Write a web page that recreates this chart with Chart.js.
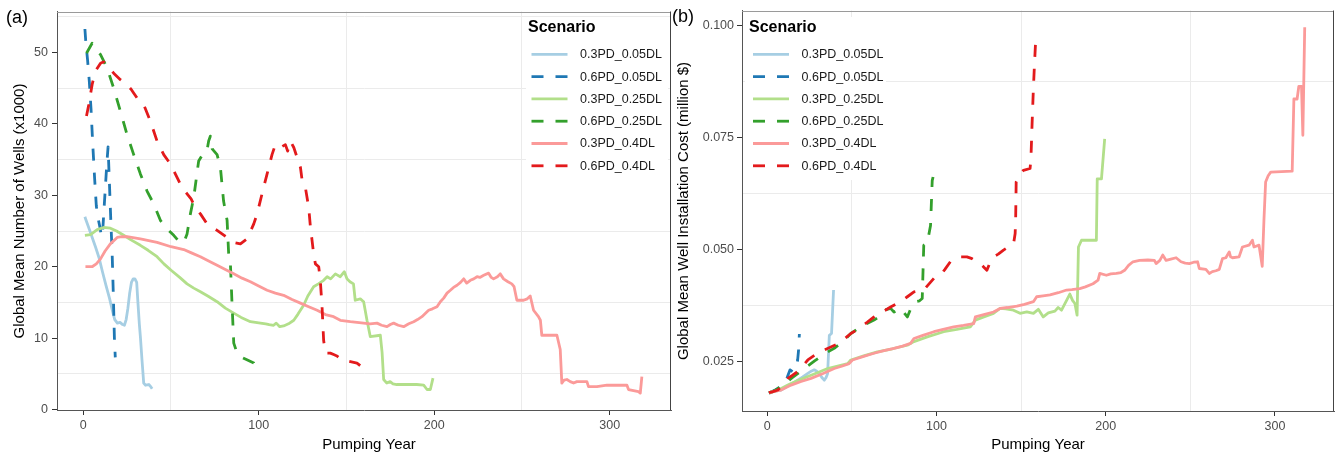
<!DOCTYPE html>
<html>
<head>
<meta charset="utf-8">
<script src="https://cdn.jsdelivr.net/npm/chart.js@4.4.1/dist/chart.umd.min.js"></script>
<style>
  html, body { margin: 0; padding: 0; background: #fff; width: 1344px; height: 453px; overflow: hidden; }
  canvas { position: absolute; top: 0; }
  #ca { left: 0; }
  #cb { left: 664px; }
</style>
</head>
<body>
<canvas id="ca" width="680" height="453"></canvas>
<canvas id="cb" width="680" height="453"></canvas>
<script>
// ---- scenarios ----
const scenarios = ['0.3PD_0.05DL', '0.6PD_0.05DL', '0.3PD_0.25DL', '0.6PD_0.25DL', '0.3PD_0.4DL', '0.6PD_0.4DL'];

// ---- (a) global mean number of wells (x1000) by pumping year ----
const wellsYears_03_005 = [1, 1.5, 3, 5, 7, 9, 11, 13, 15, 16.5, 18, 19.5, 21, 22.5, 23.5, 24.5, 25.5, 26.5, 27.5, 28.5, 29.5, 30.5, 31.2, 32, 32.6, 33.5, 34.5, 35.5, 37.4, 38.5, 39.3];
const wells_03_005      = [27.0, 26.6, 25.6, 24.2, 22.8, 21.3, 19.3, 17.4, 15.6, 14.0, 12.6, 12.1, 12.2, 11.9, 11.8, 12.6, 14.2, 16.3, 17.8, 18.3, 18.3, 17.8, 15.0, 12.0, 10.2, 7.0, 3.7, 3.4, 3.5, 3.2, 2.9];

const wellsYears_06_005 = [1, 1.5, 2.5, 3.5, 4.5, 5.5, 6.5, 7.5, 8.5, 9.5, 10.5, 11, 11.5, 12.5, 13.5, 14.2, 15, 15.8, 16.5, 17.2, 17.8, 18.3];
const wells_06_005      = [53.3, 51.5, 49, 46, 42, 37, 32.5, 28.5, 26.8, 25.6, 24.2, 24.5, 26.5, 30.5, 34.5, 36.8, 31.5, 26.2, 22, 16, 10, 7.3];

const wellsYears_03_025 = [1, 4.2, 8, 11.7, 15.5, 19, 23.1, 27, 32.6, 37, 42.1, 46, 50.1, 55, 59.2, 63, 66.8, 71, 76.3, 81, 85.8, 90, 95.3, 101, 104, 106, 108.5, 110, 112, 114.2, 117, 120, 122.5, 125.6, 128, 131.3, 134, 137, 139, 141, 143.7, 146.5, 148.8, 150.3, 152, 154, 155, 157.9, 159.8, 161.7, 163.6, 169.3, 170.3, 171.2, 173, 174.9, 176.5, 178.7, 184.5, 190, 194, 195.9, 197.8, 199.3];
const wells_03_025      = [24.4, 24.5, 25.2, 25.5, 25.4, 25, 24.4, 23.8, 23, 22.3, 21.4, 20.4, 19.5, 18.5, 17.6, 17, 16.5, 15.9, 15.1, 14.2, 13.5, 12.9, 12.3, 12.1, 12.0, 11.9, 11.8, 12.1, 11.6, 11.7, 12, 12.5, 13.4, 14.6, 15.9, 17.2, 17.6, 18.1, 18.6, 18.3, 19, 18.6, 19.3, 18.3, 17.9, 17.6, 15.3, 15.5, 15.1, 12.5, 10.2, 10.4, 8, 4.2, 3.7, 3.9, 3.6, 3.5, 3.5, 3.5, 3.4, 2.8, 2.8, 4.4];

const wellsYears_06_025 = [1.9, 5.1, 7.5, 9.9, 13.7, 17.4, 21.2, 25, 28.8, 32.6, 36.4, 40.2, 44, 47, 51.6, 55.4, 57.5, 59.2, 61.1, 63, 65.8, 68.7, 70.5, 71.5, 72.5, 73.5, 76.3, 78.2, 80, 82, 82.9, 83.9, 84.8, 85.8, 87.7, 89.6, 93, 97.2, 98.7];
const wells_06_025      = [49.9, 51.3, 50.5, 49.7, 47.8, 45, 41.8, 38.5, 35.7, 33, 30.6, 28.8, 26.5, 25.5, 24.4, 23.3, 23.5, 24.6, 27.4, 29.7, 34.8, 36, 36.2, 37.6, 38.3, 36.5, 35.7, 33.9, 29.2, 26.5, 21.8, 20.4, 14.9, 9.3, 7.9, 7.4, 7.0, 6.5, 5.1];

const wellsYears_03_04 = [1.3, 5.1, 7.5, 9.9, 12.5, 15.5, 19.4, 22, 25, 32.6, 42.1, 50.1, 57.3, 62, 66.8, 71.5, 76.3, 81, 85.8, 90.5, 95.3, 100, 104.8, 109.5, 114.2, 119, 123.8, 128.5, 133.3, 138, 142.7, 146.5, 152.2, 156, 159.8, 163.5, 167.4, 170, 173.1, 175, 176.9, 179.5, 182.6, 185.5, 188.3, 190.5, 193, 196.8, 199, 201.6, 203.5, 205.4, 207.3, 209.2, 211, 213, 215, 216.8, 218.5, 220.6, 222.5, 224.4, 226, 228.2, 231, 232.5, 233.8, 236, 237.6, 239.5, 242, 244.2, 245.5, 247.1, 250.9, 253, 254.7, 256.6, 259.4, 260.5, 261.3, 265, 269.9, 271.8, 272.7, 274, 275.6, 277.5, 279.4, 281.3, 287, 287.9, 292.7, 298.4, 309.8, 310.7, 316.4, 317.4, 318.3];
const wells_03_04      = [20, 20, 20.4, 21.1, 22.2, 23.2, 24.1, 24.2, 24.2, 23.9, 23.4, 22.8, 22.4, 21.9, 21.4, 20.8, 20.2, 19.6, 19, 18.4, 17.9, 17.3, 16.7, 16.3, 16, 15.4, 14.9, 14.4, 13.9, 13.3, 13, 12.5, 12.3, 12.2, 12.1, 12.0, 12.1, 11.8, 11.6, 11.9, 12.1, 11.8, 11.6, 12, 12.3, 12.6, 13, 13.9, 14.1, 14.4, 15.1, 15.6, 16.3, 16.7, 17.1, 17.4, 17.8, 18.3, 17.7, 18.1, 18.3, 18.6, 18.5, 18.8, 19.1, 18.5, 18.3, 18.6, 19, 18.3, 17.9, 17.6, 17.2, 15.3, 15.3, 15.5, 15.9, 13.9, 13, 12.5, 10.4, 10.4, 10.4, 8.4, 3.7, 4.1, 4.2, 3.9, 3.7, 3.9, 3.9, 3.2, 3.2, 3.4, 3.4, 2.8, 2.5, 2.3, 4.6];

const wellsYears_06_04 = [1.9, 3.2, 5.1, 7, 9.9, 11.7, 13.7, 17.4, 21.2, 25, 27.5, 30.8, 34.5, 38.3, 42.1, 45.9, 49.7, 52.5, 56.3, 59.2, 61.5, 63.9, 66.8, 70.6, 76.3, 82, 85.8, 89.6, 93.4, 97.2, 99.1, 102.8, 104.8, 107.6, 109.5, 112.4, 115.2, 116.5, 118.1, 120, 121.9, 123.8, 124.8, 126.6, 128.5, 129.5, 130.4, 131.3, 132.3, 134.2, 135.1, 136.1, 137, 138, 140.8, 142.7, 144.6, 147, 150.3, 156, 158, 158.9];
const wells_06_04      = [41.1, 42.7, 45.5, 47.4, 48.5, 48.7, 48.3, 47.1, 46.2, 45.5, 44.8, 43.6, 42.7, 40.4, 37.6, 35.7, 34.4, 33, 31.1, 30.2, 29.5, 28.3, 27.4, 26, 25.1, 24.1, 23.4, 23.2, 23.9, 26, 27.4, 31.1, 33, 35.7, 37.1, 36.7, 37.1, 36.2, 37.6, 36.7, 35.3, 33.9, 32, 31.1, 28.3, 25.5, 23.7, 21.8, 20.4, 20, 18.1, 14.4, 9.7, 7.9, 7.9, 7.7, 7.5, 7.0, 6.8, 6.5, 6.1, 7.7];

// ---- (b) global mean well installation cost (million $) by pumping year ----
const costYears_03_005 = [1, 4, 8.2, 10.5, 13.1, 15.5, 18, 21, 24, 26, 27.8, 29.3, 30.8, 32.3, 33.7, 34.8, 35.7, 36.7, 38, 39.2];
const cost_03_005      = [0.0180, 0.0184, 0.0187, 0.0192, 0.0198, 0.0203, 0.0209, 0.0216, 0.0224, 0.0229, 0.0232, 0.0229, 0.0224, 0.0215, 0.0209, 0.0215, 0.0224, 0.0309, 0.0313, 0.0410];

const costYears_06_005 = [1, 3, 6, 9, 11.5, 12.5, 13.5, 15, 16.5, 17.5, 18, 18.5, 19];
const cost_06_005      = [0.0180, 0.0183, 0.0190, 0.0198, 0.0212, 0.0222, 0.0232, 0.0228, 0.0232, 0.0240, 0.0255, 0.0275, 0.0312];

const costYears_03_025 = [1, 6, 12.2, 18, 24, 30, 35.7, 41, 47.5, 49.4, 57, 65.1, 74, 82.8, 86.7, 95, 104.3, 112, 120, 123, 128, 133.7, 137.6, 141, 145.5, 149.4, 153.4, 157.3, 160.2, 163.1, 166.1, 170, 171.9, 173.9, 176.9, 178.8, 180.4, 181.8, 183.1, 183.9, 185.7, 194.5, 195, 197.5, 199.4];
const cost_03_025      = [0.0180, 0.0186, 0.0198, 0.0208, 0.0217, 0.0226, 0.0235, 0.0240, 0.0246, 0.0254, 0.0263, 0.0272, 0.0279, 0.0287, 0.0295, 0.0306, 0.0317, 0.0322, 0.0328, 0.0343, 0.0350, 0.0358, 0.0369, 0.0368, 0.0365, 0.0358, 0.0361, 0.0358, 0.0367, 0.0350, 0.0359, 0.0363, 0.0371, 0.0365, 0.0387, 0.0401, 0.0387, 0.0380, 0.0354, 0.0506, 0.0521, 0.0521, 0.0658, 0.0658, 0.0747];

const costYears_06_025 = [1, 5, 10, 15, 22, 28, 34, 39.6, 43.5, 49.4, 55.3, 63.1, 66, 69, 72.9, 74.9, 78.8, 82.8, 85, 87.6, 90, 91.6, 92.5, 94.5, 96.5, 97.5, 98];
const cost_06_025      = [0.0181, 0.0187, 0.0200, 0.0215, 0.0235, 0.0252, 0.0268, 0.0280, 0.0291, 0.0313, 0.0328, 0.0343, 0.0350, 0.0365, 0.0369, 0.0361, 0.0369, 0.0350, 0.0370, 0.0384, 0.0386, 0.0391, 0.0510, 0.0513, 0.0554, 0.0654, 0.0662];

const costYears_03_04 = [1, 4, 8.2, 14.1, 20, 25.9, 33, 39.6, 44, 48.4, 50.4, 57, 63.1, 69, 74.9, 80, 84.7, 86.7, 92, 98.5, 104, 110.2, 116, 122, 123, 128, 133.7, 137.6, 142, 147.5, 152, 157.3, 159.2, 163, 167.1, 172, 176.9, 180, 184.7, 188, 192.5, 195.5, 196.5, 200.4, 203, 206.3, 209, 211.2, 213.5, 216.1, 220, 224.9, 228.8, 229.8, 232, 233.7, 235.7, 238.5, 241.6, 244.5, 247, 249.4, 252, 254.3, 255.3, 259.2, 261.2, 263, 265.1, 267.1, 269, 271, 273, 273.8, 274.9, 278.8, 280.8, 284.7, 286.7, 287.6, 290.6, 292.5, 293.5, 294.5, 296, 297.5, 310.2, 311.2, 313.1, 314.1, 315.7, 316.5, 317.6];
const cost_03_04      = [0.0181, 0.0184, 0.0187, 0.0198, 0.0206, 0.0213, 0.0224, 0.0235, 0.0240, 0.0246, 0.0254, 0.0262, 0.0269, 0.0275, 0.0280, 0.0285, 0.0291, 0.0302, 0.0309, 0.0317, 0.0322, 0.0328, 0.0331, 0.0335, 0.0350, 0.0355, 0.0361, 0.0369, 0.0371, 0.0374, 0.0378, 0.0384, 0.0395, 0.0397, 0.0399, 0.0404, 0.0410, 0.0411, 0.0413, 0.0417, 0.0424, 0.0432, 0.0447, 0.0443, 0.0446, 0.0447, 0.0449, 0.0454, 0.0465, 0.0473, 0.0476, 0.0477, 0.0476, 0.0469, 0.0476, 0.0488, 0.0476, 0.0479, 0.0482, 0.0473, 0.0470, 0.0469, 0.0472, 0.0473, 0.0458, 0.0456, 0.0447, 0.0451, 0.0453, 0.0456, 0.0480, 0.0482, 0.0495, 0.0484, 0.0482, 0.0484, 0.0506, 0.0510, 0.0521, 0.0506, 0.0510, 0.0463, 0.0565, 0.0651, 0.0665, 0.0673, 0.0675, 0.0836, 0.0836, 0.0864, 0.0864, 0.0755, 0.0996];

const costYears_06_04 = [1, 3, 6.3, 9, 12.2, 15, 18, 21, 24, 27, 29.8, 33.5, 37.6, 40.5, 43.5, 46.5, 49.4, 52.5, 55.3, 59, 63.1, 68, 72.9, 75.8, 78.8, 82.8, 86.7, 89.5, 92.5, 95.5, 98.5, 102.4, 105, 108.2, 111, 114.1, 118, 121, 123.5, 125.9, 128, 129.8, 131.5, 133.7, 136.5, 139.6, 142.5, 145.5, 146.5, 146.8, 147.1, 149, 151.4, 155.3, 155.8, 156.5, 157.3, 158, 158.8];
const cost_06_04      = [0.0181, 0.0183, 0.0187, 0.0198, 0.0213, 0.0220, 0.0228, 0.0241, 0.0254, 0.0262, 0.0269, 0.0276, 0.0283, 0.0288, 0.0295, 0.0304, 0.0313, 0.0320, 0.0328, 0.0338, 0.0350, 0.0361, 0.0372, 0.0378, 0.0384, 0.0395, 0.0406, 0.0408, 0.0410, 0.0423, 0.0436, 0.0443, 0.0456, 0.0473, 0.0478, 0.0484, 0.0484, 0.0480, 0.0474, 0.0469, 0.0461, 0.0454, 0.0470, 0.0484, 0.0490, 0.0499, 0.0506, 0.0512, 0.0536, 0.0569, 0.0651, 0.0668, 0.0677, 0.0681, 0.0700, 0.0780, 0.0862, 0.0920, 0.0980];

// ---- axis ticks ----
const yearTicks = [0, 100, 200, 300];
const wellTicks = [0, 10, 20, 30, 40, 50];
const costTicks = [0.025, 0.050, 0.075, 0.100];

// ---- styling ----
const FONT = "'Liberation Sans', Arial, Helvetica, sans-serif";
const palette = ['#A6CEE3', '#1F78B4', '#B2DF8A', '#33A02C', '#FB9A99', '#E31A1C'];
const isDashed = [false, true, false, true, false, true];
const LINE_W = 2.8;
const DASH = [12, 12];

Chart.defaults.font.family = FONT;

function pairs(xs, ys) { return xs.map((x, k) => ({ x: x, y: ys[k] })); }

function makeDatasets(seriesX, seriesY) {
  return scenarios.map((name, i) => ({
    label: name,
    data: pairs(seriesX[i], seriesY[i]),
    borderColor: palette[i],
    backgroundColor: palette[i],
    borderWidth: LINE_W,
    borderDash: isDashed[i] ? DASH : [],
    borderCapStyle: 'butt',
    borderJoinStyle: 'round',
    pointRadius: 0,
    tension: 0,
    fill: false,
    order: scenarios.length - i
  }));
}

// Minor grid lines midway between labelled ticks; labelled ticks get only tick marks.
function gridStyle(isMajor) {
  return {
    drawOnChartArea: true,
    drawTicks: true,
    tickLength: 5,
    lineWidth: 1,
    color: ctx => (ctx.tick && isMajor(ctx.tick.value)) ? 'rgba(0,0,0,0)' : '#EBEBEB',
    tickColor: ctx => (ctx.tick && isMajor(ctx.tick.value)) ? '#333333' : 'rgba(0,0,0,0)',
    tickWidth: 1
  };
}

function near(v, list) { return list.some(t => Math.abs(t - v) < 1e-9); }

function yearAxis(height) {
  const isMajor = v => near(v, yearTicks);
  return {
    type: 'linear',
    min: -14.9,
    max: 334.9,
    afterBuildTicks: s => {
      const t = [];
      for (let v = 0; v <= 300; v += 50) t.push({ value: v });
      s.ticks = t;
    },
    afterFit: s => { s.height = height; },
    grid: gridStyle(isMajor),
    border: { display: true, color: '#555555', width: 1 },
    ticks: {
      autoSkip: false, maxRotation: 0, padding: 3,
      color: '#4D4D4D', font: { size: 12.5, family: FONT },
      callback: v => isMajor(v) ? String(v) : ''
    },
    title: { display: false }
  };
}

// Frame, panel tag, axis titles and scenario legend
const framePlugin = {
  id: 'panelFrame',
  afterDatasetsDraw(chart, args, o) {
    const ctx = chart.ctx;
    const a = chart.chartArea;
    ctx.save();
    // top and right edges of the panel frame
    ctx.lineWidth = 1;
    ctx.strokeStyle = '#9A9A9A';
    ctx.beginPath(); ctx.moveTo(a.left, Math.round(a.top) + 0.5); ctx.lineTo(a.right, Math.round(a.top) + 0.5); ctx.stroke();
    ctx.strokeStyle = '#444444';
    ctx.beginPath(); ctx.moveTo(Math.round(a.right) - 0.5, a.top); ctx.lineTo(Math.round(a.right) - 0.5, a.bottom); ctx.stroke();

    // legend background and entries
    const L = o.legend;
    ctx.fillStyle = '#FFFFFF';
    ctx.fillRect(L.boxX, L.boxY, L.boxW, L.boxH);
    ctx.fillStyle = '#000000';
    ctx.textAlign = 'left';
    ctx.textBaseline = 'middle';
    ctx.font = 'bold 16px ' + FONT;
    ctx.fillText('Scenario', L.titleX, L.titleY);
    ctx.font = '12.5px ' + FONT;
    chart.data.datasets.forEach((ds, i) => {
      const y = L.rowY + i * L.rowH;
      ctx.strokeStyle = ds.borderColor;
      ctx.lineWidth = ds.borderWidth;
      ctx.lineCap = 'butt';
      ctx.setLineDash(ds.borderDash || []);
      ctx.beginPath(); ctx.moveTo(L.keyX, y); ctx.lineTo(L.keyX + L.keyW, y); ctx.stroke();
      ctx.setLineDash([]);
      ctx.fillStyle = '#1A1A1A';
      ctx.fillText(ds.label, L.textX, y + 0.5);
    });

    // panel tag
    ctx.fillStyle = '#000000';
    ctx.font = '18px ' + FONT;
    ctx.textBaseline = 'alphabetic';
    ctx.fillText(o.tag, o.tagX, o.tagY);

    // axis titles
    ctx.font = '15px ' + FONT;
    ctx.textAlign = 'center';
    ctx.fillText(o.xTitle, o.xTitleX, o.xTitleY);
    ctx.save();
    ctx.translate(o.yTitleX, o.yTitleY);
    ctx.rotate(-Math.PI / 2);
    ctx.fillText(o.yTitle, 0, 0);
    ctx.restore();
    ctx.restore();
  }
};

// ---- panel (a) ----
const wellsX = [wellsYears_03_005, wellsYears_06_005, wellsYears_03_025, wellsYears_06_025, wellsYears_03_04, wellsYears_06_04];
const wellsY = [wells_03_005, wells_06_005, wells_03_025, wells_06_025, wells_03_04, wells_06_04];

new Chart(document.getElementById('ca'), {
  type: 'line',
  data: { datasets: makeDatasets(wellsX, wellsY) },
  options: {
    responsive: false,
    animation: false,
    devicePixelRatio: 1,
    layout: { padding: { left: 0, right: 9, top: 10, bottom: 0 } },
    plugins: {
      legend: { display: false },
      tooltip: { enabled: false },
      panelFrame: {
        tag: '(a)', tagX: 6, tagY: 23,
        xTitle: 'Pumping Year', xTitleX: 369, xTitleY: 448.5,
        yTitle: 'Global Mean Number of Wells (x1000)', yTitleX: 24, yTitleY: 211,
        legend: { boxX: 526, boxY: 17, boxW: 142, boxH: 163, titleX: 528, titleY: 28,
                  keyX: 531.5, keyW: 36, textX: 580, rowY: 54.3, rowH: 22.3 }
      }
    },
    scales: {
      x: yearAxis(43),
      y: {
        type: 'linear',
        min: -0.07,
        max: 55.75,
        afterBuildTicks: s => {
          const t = [];
          for (let v = 0; v <= 55; v += 5) t.push({ value: v });
          s.ticks = t;
        },
        afterFit: s => { s.width = 57; },
        grid: gridStyle(v => near(v, wellTicks)),
        border: { display: true, color: '#555555', width: 1 },
        ticks: {
          autoSkip: false, padding: 4,
          color: '#4D4D4D', font: { size: 12.5, family: FONT },
          callback: v => near(v, wellTicks) ? String(v) : ''
        },
        title: { display: false }
      }
    }
  },
  plugins: [framePlugin]
});

// ---- panel (b) ----
const costX = [costYears_03_005, costYears_06_005, costYears_03_025, costYears_06_025, costYears_03_04, costYears_06_04];
const costY = [cost_03_005, cost_06_005, cost_03_025, cost_06_025, cost_03_04, cost_06_04];
const COST_STEP = 0.0125;

new Chart(document.getElementById('cb'), {
  type: 'line',
  data: { datasets: makeDatasets(costX, costY) },
  options: {
    responsive: false,
    animation: false,
    devicePixelRatio: 1,
    layout: { padding: { left: 0, right: 10, top: 10, bottom: 0 } },
    plugins: {
      legend: { display: false },
      tooltip: { enabled: false },
      panelFrame: {
        tag: '(b)', tagX: 8, tagY: 22,
        xTitle: 'Pumping Year', xTitleX: 374, xTitleY: 448.5,
        yTitle: 'Global Mean Well Installation Cost (million $)', yTitleX: 24, yTitleY: 211,
        legend: { boxX: 81, boxY: 17, boxW: 141, boxH: 163, titleX: 85, titleY: 28,
                  keyX: 89, keyW: 36, textX: 137.5, rowY: 54.3, rowH: 22.3 }
      }
    },
    scales: {
      x: yearAxis(42),
      y: {
        type: 'linear',
        min: 0.01402,
        max: 0.10334,
        afterBuildTicks: s => {
          const t = [];
          for (let k = 2; k <= 8; k++) t.push({ value: k * COST_STEP });
          s.ticks = t;
        },
        afterFit: s => { s.width = 78; },
        grid: gridStyle(v => near(v, costTicks)),
        border: { display: true, color: '#555555', width: 1 },
        ticks: {
          autoSkip: false, padding: 3,
          color: '#4D4D4D', font: { size: 12.5, family: FONT },
          callback: v => near(v, costTicks) ? v.toFixed(3) : ''
        },
        title: { display: false }
      }
    }
  },
  plugins: [framePlugin]
});
</script>
</body>
</html>
